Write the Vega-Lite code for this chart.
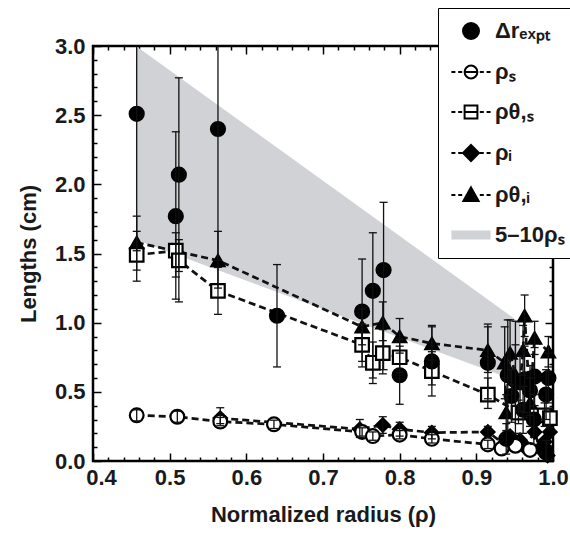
{
  "$schema": "https://vega.github.io/schema/vega-lite/v6.json",
  "autosize": {"type": "none"},
  "width": 460,
  "height": 415,
  "padding": {"left": 93, "top": 46, "right": 17, "bottom": 77},
  "background": "white",
  "config": {
    "view": {"stroke": "black", "strokeWidth": 2.5},
    "font": "Liberation Sans, Arial, sans-serif",
    "legend": {
      "title": null, "orient": "none", "legendX": 345, "legendY": -38, "direction": "vertical",
      "padding": 12, "fillColor": "white", "strokeColor": "black",
      "symbolSize": 256, "symbolOffset": 10, "labelOffset": 13, "rowPadding": 18,
      "symbolOpacity": 1, "symbolStrokeWidth": 2,
      "labelFontSize": 22, "labelFontWeight": "bold", "labelColor": "#1a1a1a"
    }
  },
  "datasets": {
    "band": [
      {"x": 0.456, "blo": 1.6, "bhi": 3.0},
      {"x": 0.957, "blo": 0.57, "bhi": 1.0}
    ],
    "keys": [
      {"s": "dr"}, {"s": "rs"}, {"s": "rts"}, {"s": "ri"}, {"s": "rti"}, {"s": "band"}
    ],
    "pts": [
      {"s": "rti", "x": 0.457, "y": 1.58, "lo": 1.38, "hi": 1.77},
      {"s": "rti", "x": 0.563, "y": 1.45, "lo": 1.25, "hi": 1.66},
      {"s": "rti", "x": 0.751, "y": 0.97, "lo": 0.84, "hi": 1.10},
      {"s": "rti", "x": 0.778, "y": 1.00, "lo": 0.87, "hi": 1.15},
      {"s": "rti", "x": 0.800, "y": 0.90, "lo": 0.78, "hi": 1.03},
      {"s": "rti", "x": 0.842, "y": 0.85, "lo": 0.73, "hi": 0.98},
      {"s": "rti", "x": 0.915, "y": 0.80, "lo": 0.64, "hi": 0.99},
      {"s": "rti", "x": 0.937, "y": 0.71, "lo": 0.45, "hi": 0.97},
      {"s": "rti", "x": 0.939, "y": 0.35, "lo": 0.22, "hi": 0.48},
      {"s": "rti", "x": 0.944, "y": 0.78, "lo": 0.55, "hi": 1.02},
      {"s": "rti", "x": 0.951, "y": 0.62, "lo": 0.40, "hi": 0.84},
      {"s": "rti", "x": 0.957, "y": 0.56, "lo": 0.36, "hi": 0.76},
      {"s": "rti", "x": 0.961, "y": 0.80, "lo": 0.62, "hi": 0.98},
      {"s": "rti", "x": 0.963, "y": 1.05, "lo": 0.90, "hi": 1.20},
      {"s": "rti", "x": 0.970, "y": 0.42, "lo": 0.25, "hi": 0.60},
      {"s": "rti", "x": 0.976, "y": 0.89, "lo": 0.77, "hi": 1.01},
      {"s": "rti", "x": 0.994, "y": 0.79, "lo": 0.68, "hi": 0.90},
      {"s": "rts", "x": 0.457, "y": 1.49, "lo": 1.30, "hi": 1.66},
      {"s": "rts", "x": 0.508, "y": 1.52, "lo": 1.33, "hi": 1.65},
      {"s": "rts", "x": 0.512, "y": 1.45, "lo": 1.15, "hi": 1.60},
      {"s": "rts", "x": 0.563, "y": 1.23, "lo": 1.06, "hi": 1.40},
      {"s": "rts", "x": 0.751, "y": 0.84, "lo": 0.68, "hi": 0.99},
      {"s": "rts", "x": 0.765, "y": 0.71, "lo": 0.56, "hi": 0.86},
      {"s": "rts", "x": 0.778, "y": 0.78, "lo": 0.63, "hi": 0.95},
      {"s": "rts", "x": 0.800, "y": 0.75, "lo": 0.64, "hi": 0.88},
      {"s": "rts", "x": 0.842, "y": 0.65, "lo": 0.55, "hi": 0.79},
      {"s": "rts", "x": 0.915, "y": 0.48, "lo": 0.38, "hi": 0.60},
      {"s": "rts", "x": 0.955, "y": 0.35, "lo": 0.27, "hi": 0.44},
      {"s": "rts", "x": 0.989, "y": 0.33, "lo": 0.25, "hi": 0.42},
      {"s": "rts", "x": 0.996, "y": 0.31, "lo": 0.24, "hi": 0.38},
      {"s": "ri", "x": 0.566, "y": 0.31, "lo": 0.27, "hi": 0.385},
      {"s": "ri", "x": 0.748, "y": 0.23, "lo": 0.17, "hi": 0.30},
      {"s": "ri", "x": 0.778, "y": 0.26, "lo": 0.20, "hi": 0.32},
      {"s": "ri", "x": 0.800, "y": 0.23, "lo": 0.18, "hi": 0.28},
      {"s": "ri", "x": 0.842, "y": 0.205, "lo": 0.16, "hi": 0.25},
      {"s": "ri", "x": 0.915, "y": 0.21, "lo": 0.17, "hi": 0.25},
      {"s": "ri", "x": 0.937, "y": 0.12},
      {"s": "ri", "x": 0.944, "y": 0.18},
      {"s": "ri", "x": 0.957, "y": 0.15},
      {"s": "ri", "x": 0.963, "y": 0.10},
      {"s": "ri", "x": 0.976, "y": 0.21},
      {"s": "ri", "x": 0.983, "y": 0.09},
      {"s": "ri", "x": 0.989, "y": 0.14},
      {"s": "ri", "x": 0.993, "y": 0.04},
      {"s": "ri", "x": 0.996, "y": 0.21},
      {"s": "rs", "x": 0.457, "y": 0.33, "lo": 0.29, "hi": 0.37},
      {"s": "rs", "x": 0.510, "y": 0.32, "lo": 0.28, "hi": 0.36},
      {"s": "rs", "x": 0.566, "y": 0.285, "lo": 0.255, "hi": 0.315},
      {"s": "rs", "x": 0.636, "y": 0.265, "lo": 0.235, "hi": 0.295},
      {"s": "rs", "x": 0.751, "y": 0.21, "lo": 0.18, "hi": 0.24},
      {"s": "rs", "x": 0.765, "y": 0.18, "lo": 0.15, "hi": 0.21},
      {"s": "rs", "x": 0.800, "y": 0.19, "lo": 0.16, "hi": 0.22},
      {"s": "rs", "x": 0.842, "y": 0.16, "lo": 0.13, "hi": 0.19},
      {"s": "rs", "x": 0.915, "y": 0.12, "lo": 0.09, "hi": 0.15},
      {"s": "rs", "x": 0.933, "y": 0.09},
      {"s": "rs", "x": 0.951, "y": 0.11},
      {"s": "rs", "x": 0.970, "y": 0.08},
      {"s": "rs", "x": 0.991, "y": 0.06},
      {"s": "dr", "x": 0.457, "y": 2.51, "lo": 1.52, "hi": 3.5},
      {"s": "dr", "x": 0.512, "y": 2.07, "lo": 1.37, "hi": 2.77},
      {"s": "dr", "x": 0.508, "y": 1.77, "lo": 1.17, "hi": 2.38},
      {"s": "dr", "x": 0.563, "y": 2.40, "lo": 1.45, "hi": 3.35},
      {"s": "dr", "x": 0.640, "y": 1.05, "lo": 0.68, "hi": 1.42},
      {"s": "dr", "x": 0.751, "y": 1.08, "lo": 0.72, "hi": 1.46},
      {"s": "dr", "x": 0.765, "y": 1.23, "lo": 0.60, "hi": 1.65},
      {"s": "dr", "x": 0.779, "y": 1.38, "lo": 0.66, "hi": 1.87},
      {"s": "dr", "x": 0.800, "y": 0.62, "lo": 0.41, "hi": 0.83},
      {"s": "dr", "x": 0.842, "y": 0.72, "lo": 0.47, "hi": 0.97},
      {"s": "dr", "x": 0.915, "y": 0.71, "lo": 0.45, "hi": 0.97},
      {"s": "dr", "x": 0.941, "y": 0.62, "lo": 0.22, "hi": 1.02},
      {"s": "dr", "x": 0.951, "y": 0.58, "lo": 0.20, "hi": 1.01},
      {"s": "dr", "x": 0.963, "y": 0.59, "lo": 0.35, "hi": 0.83},
      {"s": "dr", "x": 0.976, "y": 0.61, "lo": 0.40, "hi": 0.82},
      {"s": "dr", "x": 0.994, "y": 0.60, "lo": 0.42, "hi": 0.78},
      {"s": "dr", "x": 0.991, "y": 0.48, "lo": 0.30, "hi": 0.66},
      {"s": "dr", "x": 0.970, "y": 0.51, "lo": 0.33, "hi": 0.69},
      {"s": "dr", "x": 0.946, "y": 0.47, "lo": 0.28, "hi": 0.66},
      {"s": "dr", "x": 0.961, "y": 0.37, "lo": 0.20, "hi": 0.54},
      {"s": "dr", "x": 0.975, "y": 0.30, "lo": 0.12, "hi": 0.48},
      {"s": "dr", "x": 0.939, "y": 0.16, "lo": 0.05, "hi": 0.27},
      {"s": "dr", "x": 0.991, "y": 0.07, "lo": 0.0, "hi": 0.15}
    ]
  },
  "resolve": {
    "axis": {"x": "independent", "y": "independent"},
    "scale": {"shape": "independent", "fill": "independent", "stroke": "independent", "size": "independent"}
  },
  "layer": [
    {
      "data": {"name": "band"},
      "mark": {"type": "area", "color": "#d1d2d6", "opacity": 1},
      "encoding": {
        "x": {
          "field": "x", "type": "quantitative",
          "scale": {"domain": [0.4, 1.0], "nice": false, "zero": false},
          "axis": {
            "orient": "bottom",
            "values": [0.4,0.42,0.44,0.46,0.48,0.5,0.52,0.54,0.56,0.58,0.6,0.62,0.64,0.66,0.68,0.7,0.72,0.74,0.76,0.78,0.8,0.82,0.84,0.86,0.88,0.9,0.92,0.94,0.96,0.98,1.0],
            "labelExpr": "abs(datum.value*10 - round(datum.value*10)) < 0.01 ? format(datum.value, '.1f') : ''",
            "labelFlush": false,
            "labelOffset": {"condition": {"test": "datum.value < 0.41", "value": 8}, "value": 0},
            "tickSize": {"condition": {"test": "abs(datum.value*10 - round(datum.value*10)) < 0.01", "value": -8}, "value": -4},
            "tickWidth": 1.5, "tickColor": "black",
            "domain": false, "grid": false,
            "labelFontSize": 22, "labelFontWeight": "bold", "labelColor": "#1a1a1a",
            "labelPadding": 14,
            "title": "Normalized radius (ρ)",
            "titleFontSize": 22, "titleFontWeight": "bold", "titleColor": "#1a1a1a",
            "titlePadding": 16
          }
        },
        "y": {
          "field": "blo", "type": "quantitative",
          "scale": {"domain": [0, 3], "nice": false, "zero": false},
          "axis": {
            "orient": "left",
            "values": [0,0.1,0.2,0.3,0.4,0.5,0.6,0.7,0.8,0.9,1.0,1.1,1.2,1.3,1.4,1.5,1.6,1.7,1.8,1.9,2.0,2.1,2.2,2.3,2.4,2.5,2.6,2.7,2.8,2.9,3.0],
            "labelExpr": "abs(datum.value*2 - round(datum.value*2)) < 0.01 ? format(datum.value, '.1f') : ''",
            "labelFlush": false,
            "tickSize": {"condition": {"test": "abs(datum.value*2 - round(datum.value*2)) < 0.01", "value": -8}, "value": -4},
            "tickWidth": 1.5, "tickColor": "black",
            "domain": false, "grid": false,
            "labelFontSize": 22, "labelFontWeight": "bold", "labelColor": "#1a1a1a",
            "labelPadding": 16,
            "title": "Lengths (cm)",
            "titleFontSize": 22, "titleFontWeight": "bold", "titleColor": "#1a1a1a",
            "titlePadding": 14
          }
        },
        "y2": {"field": "bhi"}
      }
    },
    {
      "data": {"name": "pts"},
      "transform": [{"filter": "datum.s !== 'dr'"}],
      "mark": {"type": "line", "color": "#111", "strokeWidth": 2.7, "strokeDash": [7, 4]},
      "encoding": {
        "x": {
          "field": "x", "type": "quantitative",
          "axis": {
            "orient": "top",
            "values": [0.4,0.42,0.44,0.46,0.48,0.5,0.52,0.54,0.56,0.58,0.6,0.62,0.64,0.66,0.68,0.7,0.72,0.74,0.76,0.78,0.8,0.82,0.84,0.86,0.88,0.9,0.92,0.94,0.96,0.98,1.0],
            "labels": false, "title": null, "domain": false, "grid": false,
            "tickSize": {"condition": {"test": "abs(datum.value*10 - round(datum.value*10)) < 0.01", "value": -8}, "value": -4},
            "tickWidth": 1.5, "tickColor": "black"
          }
        },
        "y": {
          "field": "y", "type": "quantitative",
          "axis": {
            "orient": "right",
            "values": [0,0.1,0.2,0.3,0.4,0.5,0.6,0.7,0.8,0.9,1.0,1.1,1.2,1.3,1.4,1.5,1.6,1.7,1.8,1.9,2.0,2.1,2.2,2.3,2.4,2.5,2.6,2.7,2.8,2.9,3.0],
            "labels": false, "title": null, "domain": false, "grid": false,
            "tickSize": {"condition": {"test": "abs(datum.value*2 - round(datum.value*2)) < 0.01", "value": -8}, "value": -4},
            "tickWidth": 1.5, "tickColor": "black"
          }
        },
        "detail": {"field": "s"}
      }
    },
    {
      "data": {"name": "pts"},
      "mark": {"type": "point", "filled": true, "stroke": "black", "strokeWidth": 2.2, "opacity": 1},
      "encoding": {
        "x": {"field": "x", "type": "quantitative", "axis": null},
        "y": {"field": "y", "type": "quantitative", "axis": null},
        "fill": {
          "field": "s", "type": "nominal",
          "scale": {"domain": ["dr", "rs", "rts", "ri", "rti"], "range": ["black", "white", "white", "black", "black"]},
          "legend": null
        },
        "shape": {
          "field": "s", "type": "nominal",
          "scale": {"domain": ["dr", "rs", "rts", "ri", "rti"], "range": ["circle", "circle", "square", "diamond", "triangle-up"]},
          "legend": null
        },
        "size": {
          "field": "s", "type": "nominal",
          "scale": {"domain": ["dr", "rs", "rts", "ri", "rti"], "range": [196, 170, 140, 240, 190]},
          "legend": null
        }
      }
    },
    {
      "data": {"name": "pts"},
      "transform": [{"filter": "isValid(datum.lo)"}],
      "mark": {"type": "rule", "color": "#111", "strokeWidth": 1.3, "clip": true},
      "encoding": {
        "x": {"field": "x", "type": "quantitative", "axis": null},
        "y": {"field": "lo", "type": "quantitative", "axis": null},
        "y2": {"field": "hi"}
      }
    },
    {
      "data": {"name": "pts"},
      "transform": [
        {"fold": ["lo", "hi"], "as": ["k", "v"]},
        {"filter": "isValid(datum.v)"}
      ],
      "mark": {"type": "tick", "orient": "horizontal", "color": "#111", "thickness": 1.3, "size": 8, "opacity": 1, "clip": true},
      "encoding": {
        "x": {"field": "x", "type": "quantitative", "axis": null},
        "y": {"field": "v", "type": "quantitative", "axis": null}
      }
    },
    {
      "data": {"name": "keys"},
      "mark": {"type": "point", "filled": true, "opacity": 0, "strokeWidth": 2, "size": 256},
      "encoding": {
        "x": {"datum": 0.5, "type": "quantitative", "axis": null},
        "y": {"datum": 1.0, "type": "quantitative", "axis": null},
        "fill": {
          "field": "s", "type": "nominal",
          "scale": {"domain": ["dr", "rs", "rts", "ri", "rti", "band"], "range": ["black", "white", "white", "black", "black", "#d1d2d6"]},
          "legend": {
            "labelExpr": "datum.value === 'dr' ? 'Δrₑₓₚₜ' : datum.value === 'rs' ? 'ρₛ' : datum.value === 'rts' ? 'ρθ,ₛ' : datum.value === 'ri' ? 'ρᵢ' : datum.value === 'rti' ? 'ρθ,ᵢ' : '5–10ρₛ'",
            "symbolOpacity": 1
          }
        },
        "stroke": {
          "field": "s", "type": "nominal",
          "scale": {"domain": ["dr", "rs", "rts", "ri", "rti", "band"], "range": ["black", "black", "black", "black", "black", "transparent"]},
          "legend": {
            "labelExpr": "datum.value === 'dr' ? 'Δrₑₓₚₜ' : datum.value === 'rs' ? 'ρₛ' : datum.value === 'rts' ? 'ρθ,ₛ' : datum.value === 'ri' ? 'ρᵢ' : datum.value === 'rti' ? 'ρθ,ᵢ' : '5–10ρₛ'",
            "symbolOpacity": 1
          }
        },
        "shape": {
          "field": "s", "type": "nominal",
          "scale": {
            "domain": ["dr", "rs", "rts", "ri", "rti", "band"],
            "range": [
              "circle",
              "M-2.45,0H-1.95M-1.6,0H-1.1M-0.8,0A0.8,0.8,0,1,1,0.8,0A0.8,0.8,0,1,1,-0.8,0ZM-0.8,0H0.8M1.1,0H1.6M1.95,0H2.45",
              "M-2.45,0H-1.95M-1.6,0H-1.1M-0.8,-0.8H0.8V0.8H-0.8ZM-0.8,0H0.8M1.1,0H1.6M1.95,0H2.45",
              "M-2.45,0H-1.95M-1.6,0H-1.1M0,-1L1,0L0,1L-1,0ZM1.1,0H1.6M1.95,0H2.45",
              "M-2.45,0H-1.95M-1.6,0H-1.1M0,-0.95L0.95,0.75L-0.95,0.75ZM1.1,0H1.6M1.95,0H2.45",
              "M-2.45,-0.55H2.45V0.55H-2.45Z"
            ]
          },
          "legend": {
            "labelExpr": "datum.value === 'dr' ? 'Δrₑₓₚₜ' : datum.value === 'rs' ? 'ρₛ' : datum.value === 'rts' ? 'ρθ,ₛ' : datum.value === 'ri' ? 'ρᵢ' : datum.value === 'rti' ? 'ρθ,ᵢ' : '5–10ρₛ'",
            "symbolOpacity": 1
          }
        }
      }
    }
  ]
}
